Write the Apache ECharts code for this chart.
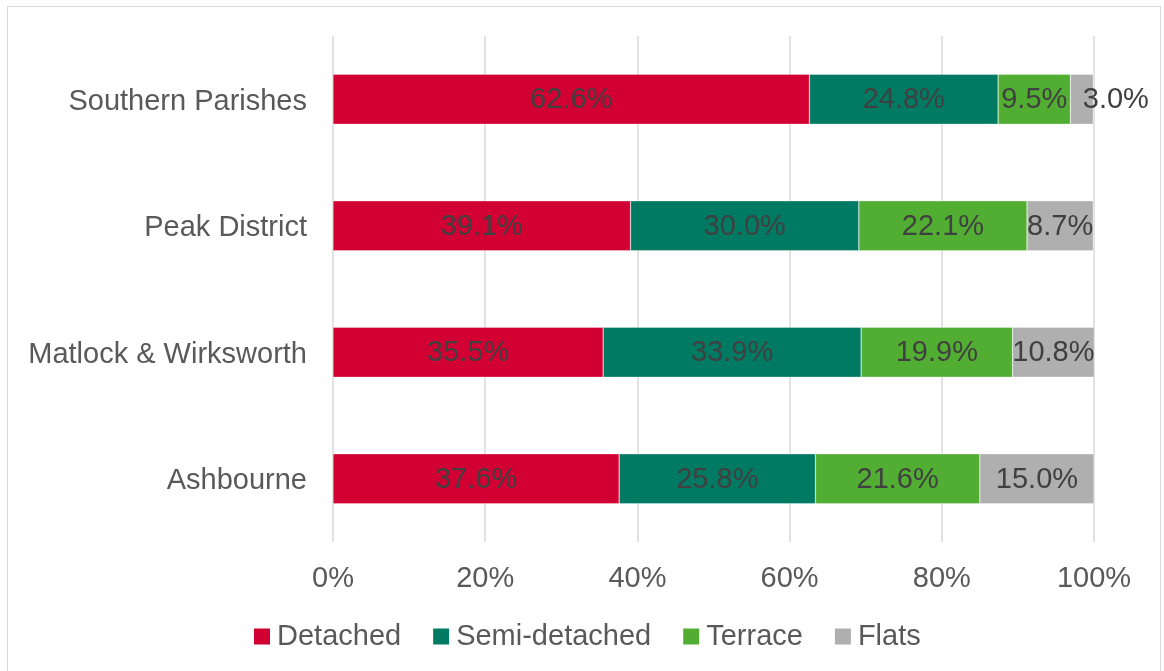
<!DOCTYPE html>
<html>
<head>
<meta charset="utf-8">
<script src="https://cdn.jsdelivr.net/npm/echarts@6/dist/echarts.min.js"></script>
<style>
html,body{margin:0;padding:0;background:#fff;}
#frame{position:absolute;left:7px;top:6px;width:1153.5px;height:670px;border:1.5px solid #d9d9d9;box-sizing:border-box;}
#chart{position:absolute;left:0;top:0;width:1164px;height:671px;}
</style>
</head>
<body>
<div id="frame"></div>
<div id="chart"></div>
<script>
const categories = ['Ashbourne', 'Matlock & Wirksworth', 'Peak District', 'Southern Parishes'];
const detached = [37.6, 35.5, 39.1, 62.6];
const semiDetached = [25.8, 33.9, 30.0, 24.8];
const terrace = [21.6, 19.9, 22.1, 9.5];
const flats = [15.0, 10.8, 8.7, 3.0];
const seriesNames = ['Detached', 'Semi-detached', 'Terrace', 'Flats'];
const xTicks = [0, 20, 40, 60, 80, 100];

const colors = ['#D20032', '#007A63', '#52AE32', '#AFAFAF'];
const FONT = '"Liberation Sans", Arial, sans-serif';
const FS = 29;

const chart = echarts.init(document.getElementById('chart'), null, {renderer: 'canvas'});

function mkSeries(name, values, color) {
  return {
    name: name,
    type: 'bar',
    stack: 'total',
    barWidth: 50,
    itemStyle: {color: color, borderColor: 'rgba(255,255,255,0.6)', borderWidth: 0.5},
    label: {
      show: true,
      position: 'inside',
      color: '#404040',
      fontFamily: FONT,
      fontSize: FS,
      offset: [0, 1],
      formatter: p => p.value.toFixed(1) + '%'
    },
    emphasis: {disabled: true},
    data: values.map((v, i) => {
      if (name === 'Flats' && v < 5) {
        return {value: v, label: {offset: [34, 1]}};
      }
      return v;
    })
  };
}

chart.setOption({
  animation: false,
  grid: {left: 333, right: 70, top: 36, bottom: 129, containLabel: false},
  legend: {
    left: 254,
    top: 622,
    padding: 0,
    itemWidth: 16,
    itemHeight: 16,
    itemGap: 32,
    icon: 'rect',
    itemStyle: {borderWidth: 0},
    textStyle: {color: '#595959', fontFamily: FONT, fontSize: FS, padding: [0, 0, 0, 2]},
    data: seriesNames
  },
  xAxis: {
    type: 'value',
    min: 0,
    max: 100,
    interval: 20,
    axisLine: {show: false},
    axisTick: {show: false},
    splitLine: {show: true, lineStyle: {color: '#d9d9d9', width: 1.5}},
    axisLabel: {
      color: '#595959',
      fontFamily: FONT,
      fontSize: FS,
      margin: 22,
      formatter: v => xTicks.includes(v) ? v + '%' : ''
    }
  },
  yAxis: {
    type: 'category',
    data: categories,
    axisLine: {show: false},
    axisTick: {show: false},
    axisLabel: {
      margin: 26,
      formatter: v => '{a|' + v + '}',
      rich: {a: {color: '#595959', fontFamily: FONT, fontSize: FS, padding: [5, 0, 0, 0]}}
    }
  },
  series: [
    mkSeries(seriesNames[0], detached, colors[0]),
    mkSeries(seriesNames[1], semiDetached, colors[1]),
    mkSeries(seriesNames[2], terrace, colors[2]),
    mkSeries(seriesNames[3], flats, colors[3])
  ]
});
</script>
</body>
</html>
